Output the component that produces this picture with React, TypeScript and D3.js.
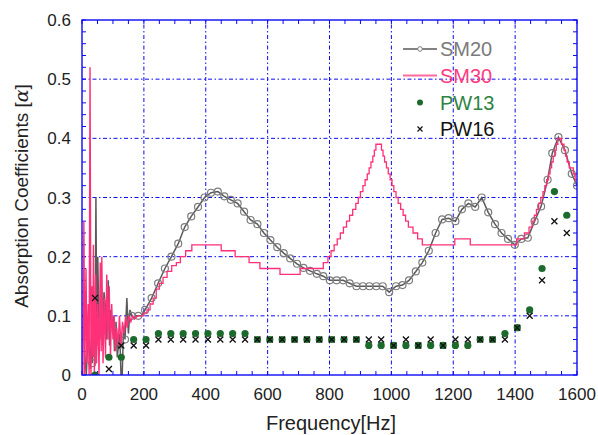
import React from 'react';
import * as d3 from 'd3';

// ---------- data ----------
const xTicks = [0, 200, 400, 600, 800, 1000, 1200, 1400, 1600];
const yTicks = [0, 0.1, 0.2, 0.3, 0.4, 0.5, 0.6];
const yTickLabels = ['0', '0.1', '0.2', '0.3', '0.4', '0.5', '0.6'];
const legendNames = ['SM20', 'SM30', 'PW13', 'PW16'];

// PW13 / PW16 measurement frequencies
const pwFreq = [42, 87, 127, 167, 207, 247, 287, 327, 367, 407, 447, 487, 527, 567, 607, 647, 687, 727, 767, 807,
  847, 887, 927, 967, 1007, 1047, 1087, 1127, 1167, 1207, 1247, 1287, 1327, 1367, 1407, 1447, 1487, 1527, 1567];
const pw13 = [0.0, 0.03, 0.03, 0.06, 0.06, 0.07, 0.07, 0.07, 0.07, 0.07, 0.07, 0.07, 0.07, 0.06, 0.06, 0.06, 0.06, 0.06, 0.06, 0.06,
  0.06, 0.06, 0.05, 0.05, 0.05, 0.05, 0.05, 0.05, 0.05, 0.05, 0.05, 0.06, 0.06, 0.07, 0.08, 0.11, 0.18, 0.31, 0.27];
const pw16 = [0.13, 0.01, 0.05, 0.05, 0.05, 0.06, 0.06, 0.06, 0.06, 0.06, 0.06, 0.06, 0.06, 0.06, 0.06, 0.06, 0.06, 0.06, 0.06, 0.06,
  0.06, 0.06, 0.06, 0.06, 0.05, 0.06, 0.05, 0.06, 0.05, 0.06, 0.06, 0.06, 0.06, 0.06, 0.08, 0.10, 0.16, 0.26, 0.24];

// SM20 marker points
const sm20Freq = [33, 54, 75, 97, 118, 139, 161, 182, 204, 225, 246, 268, 289, 311, 332, 353, 375, 396, 417, 439,
  460, 481, 503, 524, 545, 567, 588, 609, 631, 652, 673, 695, 716, 737, 759, 780, 801, 823, 844, 865,
  887, 908, 929, 951, 972, 993, 1015, 1036, 1057, 1079, 1100, 1121, 1143, 1164, 1185, 1207, 1228, 1249, 1271, 1292,
  1313, 1335, 1356, 1377, 1399, 1420, 1441, 1463, 1484, 1505, 1520, 1540, 1561, 1583, 1600];
const sm20Val = [0.02, 0.10, 0.12, 0.08, 0.05, 0.06, 0.10, 0.10, 0.11, 0.13, 0.155, 0.18, 0.20, 0.222, 0.25, 0.268, 0.284, 0.30, 0.308, 0.31,
  0.302, 0.296, 0.29, 0.276, 0.262, 0.255, 0.24, 0.228, 0.216, 0.206, 0.197, 0.188, 0.181, 0.176, 0.171, 0.167, 0.16, 0.16, 0.16, 0.155,
  0.15, 0.15, 0.15, 0.15, 0.15, 0.14, 0.15, 0.152, 0.16, 0.175, 0.19, 0.21, 0.24, 0.263, 0.265, 0.26, 0.28, 0.29, 0.284, 0.30,
  0.275, 0.255, 0.24, 0.23, 0.22, 0.23, 0.232, 0.26, 0.285, 0.33, 0.375, 0.402, 0.38, 0.34, 0.32];
// SM20 low-frequency raw trace (line only)
const sm20NoiseFreq = [8, 14, 20, 26, 30, 38, 42, 45, 48, 51, 58, 62, 67, 71, 80, 85, 89, 93, 101, 105, 110, 114, 122, 126, 130, 134, 145, 150, 155, 170, 176, 192];
const sm20NoiseVal = [0.04, 0.0, 0.08, 0.01, 0.06, 0.1, 0.02, 0.30, 0.05, 0.2, 0.06, 0.15, 0.05, 0.14, 0.06, 0.16, 0.05, 0.11, 0.1, 0.04, 0.09, 0.03, 0.07, 0.0, 0.0, 0.08, 0.13, 0.07, 0.11, 0.095, 0.1, 0.1];

// SM30 low-frequency raw trace
const sm30NoiseFreq = [3, 6, 9, 13, 16, 20, 23, 26, 29, 32, 35, 37, 40, 44, 47, 51, 55, 59, 62, 64, 68, 72, 76, 80, 84, 88, 92, 96,
  100, 104, 108, 112, 117, 121, 126, 131, 136, 141, 146, 152, 158, 164, 170, 180, 190];
const sm30NoiseVal = [0.0, 0.26, 0.0, 0.18, 0.02, 0.12, 0.0, 0.52, 0.0, 0.15, 0.03, 0.22, 0.0, 0.17, 0.02, 0.12, 0.0, 0.19, 0.04, 0.2, 0.02, 0.13, 0.03, 0.17, 0.06, 0.15, 0.03, 0.12,
  0.06, 0.1, 0.04, 0.08, 0.05, 0.1, 0.05, 0.09, 0.07, 0.1, 0.08, 0.1, 0.09, 0.1, 0.095, 0.1, 0.1];
// SM30 stepped trace (value holds until next frequency)
const sm30StepFreq = [190, 200, 210, 220, 230, 240, 250, 262, 275, 290, 305, 318, 335, 355, 450, 495, 540, 575, 640, 705,
  780, 795, 805, 815, 825, 835, 845, 855, 865, 875, 885, 893, 900, 908, 915, 922, 928, 934, 940, 945,
  950, 968, 973, 978, 984, 990, 996, 1002, 1008, 1015, 1022, 1030, 1038, 1046, 1055, 1070, 1085, 1100, 1205, 1255,
  1405, 1430, 1445, 1455, 1462, 1469, 1476, 1483, 1490, 1496, 1502, 1508, 1513, 1518, 1523, 1528, 1533, 1538, 1550, 1558,
  1563, 1568, 1575, 1588, 1594, 1600];
const sm30StepVal = [0.10, 0.105, 0.11, 0.12, 0.13, 0.145, 0.155, 0.165, 0.175, 0.185, 0.19, 0.2, 0.21, 0.22, 0.21, 0.2, 0.19, 0.18, 0.17, 0.18,
  0.19, 0.2, 0.21, 0.22, 0.23, 0.24, 0.25, 0.26, 0.27, 0.28, 0.29, 0.30, 0.31, 0.32, 0.33, 0.34, 0.35, 0.36, 0.37, 0.38,
  0.39, 0.38, 0.37, 0.36, 0.35, 0.34, 0.33, 0.32, 0.31, 0.30, 0.29, 0.28, 0.27, 0.26, 0.25, 0.24, 0.23, 0.22, 0.23, 0.22,
  0.23, 0.24, 0.25, 0.26, 0.27, 0.28, 0.29, 0.30, 0.31, 0.32, 0.33, 0.34, 0.35, 0.36, 0.37, 0.38, 0.39, 0.40, 0.39, 0.38,
  0.37, 0.36, 0.35, 0.34, 0.33, 0.33];

// ---------- styling ----------
const W = 598, H = 435;
const FONT = '"Liberation Sans", Arial, Helvetica, sans-serif';
const BLUE = '#0a0af5';
const GRAY_LINE = '#5a5a5a';
const GRAY_MARK = '#7d7d7d';
const PINK = '#ff2f78';
const GREEN = '#1c6b2c';

export default function App() {
  const x = d3.scaleLinear().domain([0, 1600]).range([82, 577]);
  const y = d3.scaleLinear().domain([0, 0.6]).range([375, 20]);

  const sm20Pts: [number, number][] = sm20Freq.map((f, i) => [f, sm20Val[i]]);
  const sm20LinePts: [number, number][] = [
    ...sm20NoiseFreq.map((f, i) => [f, sm20NoiseVal[i]] as [number, number]),
    ...sm20Pts,
  ].sort((a, b) => a[0] - b[0]);
  const sm30NoisePts: [number, number][] = sm30NoiseFreq.map((f, i) => [f, sm30NoiseVal[i]]);
  const sm30StepPts: [number, number][] = sm30StepFreq.map((f, i) => [f, sm30StepVal[i]]);

  const lin = d3.line<[number, number]>().x(d => x(d[0])).y(d => y(d[1]));
  const step = d3.line<[number, number]>().x(d => x(d[0])).y(d => y(d[1])).curve(d3.curveStepAfter);

  const xMinor = d3.range(0, 1601, 50);
  const yMinor = d3.range(0, 31).map(i => i * 0.02);
  const [x0, x1] = x.range();
  const [y0, y1] = y.range();

  const legX = 420, legText = 440;
  const legY = [49, 75.5, 102.5, 129];
  const legColors = ['#7a7a7a', '#ff3a80', '#2f8343', '#111'];

  const cross = (cx: number, cy: number, s: number) => `M${cx - s},${cy - s}L${cx + s},${cy + s}M${cx - s},${cy + s}L${cx + s},${cy - s}`;

  return (
    <svg width={W} height={H} style={{ position: 'absolute', left: 0, top: 0, background: '#fff' }} fontFamily={FONT}>
      <defs>
        <clipPath id="plot"><rect x={x0} y={y1} width={x1 - x0} height={y0 - y1} /></clipPath>
      </defs>
      <rect width={W} height={H} fill="#fff" />
      {/* grid */}
      <g stroke={BLUE} strokeWidth={1} strokeDasharray="4,2.5,1.5,2.5">
        {yTicks.slice(1, -1).map(v => <line key={'gy' + v} x1={x0} x2={x1} y1={y(v)} y2={y(v)} />)}
        {xTicks.slice(1, -1).map(v => <line key={'gx' + v} x1={x(v)} x2={x(v)} y1={y0} y2={y1} />)}
      </g>
      {/* minor ticks */}
      <g stroke={BLUE} strokeWidth={1}>
        {xMinor.map(v => (
          <g key={'tx' + v}>
            <line x1={x(v)} x2={x(v)} y1={y0} y2={y0 - 4} />
            <line x1={x(v)} x2={x(v)} y1={y1} y2={y1 + 4} />
          </g>
        ))}
        {yMinor.map(v => (
          <g key={'ty' + v}>
            <line x1={x0} x2={x0 + 4} y1={y(v)} y2={y(v)} />
            <line x1={x1} x2={x1 - 4} y1={y(v)} y2={y(v)} />
          </g>
        ))}
      </g>
      {/* series */}
      <g clipPath="url(#plot)">
        <path d={lin(sm20LinePts) || ''} fill="none" stroke={GRAY_LINE} strokeWidth={1.5} />
        {sm20Pts.map((d, i) => (
          <circle key={'c' + i} cx={x(d[0])} cy={y(d[1])} r={3.5} fill="none" stroke={GRAY_MARK} strokeWidth={1.2} />
        ))}
        <path d={lin(sm30NoisePts) || ''} fill="none" stroke={PINK} strokeWidth={1.4} />
        <path d={step(sm30StepPts) || ''} fill="none" stroke={PINK} strokeWidth={1.3} />
        {pwFreq.map((f, i) => (
          <circle key={'g' + i} cx={x(f)} cy={y(pw13[i])} r={3.6} fill={GREEN} />
        ))}
        {pwFreq.map((f, i) => (
          <path key={'k' + i} d={cross(x(f), y(pw16[i]), 3)} stroke="#111" strokeWidth={1.3} fill="none" />
        ))}
      </g>
      {/* frame */}
      <rect x={x0} y={y1} width={x1 - x0} height={y0 - y1} fill="none" stroke={BLUE} strokeWidth={1.4} />
      {/* tick labels */}
      <g fontSize={17} fill="#222">
        {yTicks.map((v, i) => (
          <text key={'ly' + v} x={71} y={y(v)} dy="0.36em" textAnchor="end">{yTickLabels[i]}</text>
        ))}
        {xTicks.map(v => (
          <text key={'lx' + v} x={x(v)} y={400} textAnchor="middle">{v}</text>
        ))}
      </g>
      {/* axis titles */}
      <text x={331} y={430} fontSize={20} fill="#222" textAnchor="middle">Frequency[Hz]</text>
      <text transform={`translate(28,196) rotate(-90)`} fontSize={19} fill="#222" textAnchor="middle">
        Absorption Coefficients [<tspan fontStyle="italic" fontFamily='"DejaVu Serif", serif'>α</tspan>]
      </text>
      {/* legend */}
      <g>
        <line x1={403} x2={437} y1={legY[0]} y2={legY[0]} stroke={GRAY_LINE} strokeWidth={1.3} />
        <circle cx={legX} cy={legY[0]} r={2.3} fill="#fff" stroke={GRAY_MARK} strokeWidth={1} />
        <line x1={403} x2={437} y1={legY[1]} y2={legY[1]} stroke="#ff6a9c" strokeWidth={1.8} />
        <circle cx={legX} cy={legY[2]} r={3} fill={GREEN} />
        <path d={cross(legX, legY[3], 2.5)} stroke="#111" strokeWidth={1.2} />
        {legendNames.map((n, i) => (
          <text key={n} x={legText} y={legY[i]} dy="0.36em" fontSize={20} fill={legColors[i]}>{n}</text>
        ))}
      </g>
    </svg>
  );
}
